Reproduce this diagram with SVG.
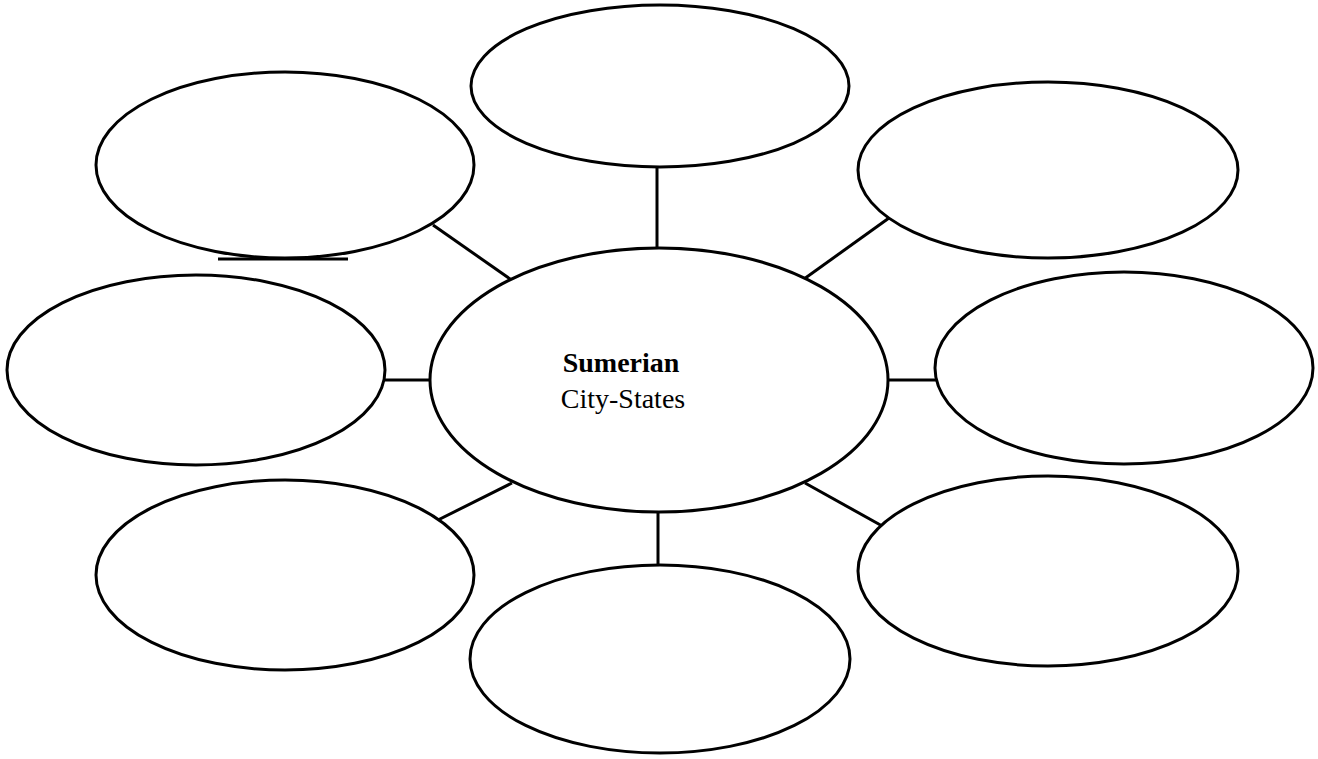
<svg xmlns="http://www.w3.org/2000/svg" width="1318" height="759" viewBox="0 0 1318 759">
<style>
.n{fill:#fff;stroke:#000;stroke-width:3}
.c line{stroke:#000;stroke-width:3}
.t{font-family:"Liberation Serif",serif;font-size:28px;fill:#000;text-anchor:middle}
</style>
<rect width="1318" height="759" fill="#fff"/>
<g class="c" id="connectors">
<line x1="657" y1="168" x2="657" y2="250"/>
<line x1="433" y1="225" x2="513" y2="281"/>
<line x1="889" y1="218" x2="804" y2="279"/>
<line x1="384" y1="380" x2="431" y2="380"/>
<line x1="887" y1="380" x2="936" y2="380"/>
<line x1="512" y1="483" x2="424" y2="527"/>
<line x1="805" y1="483" x2="893" y2="532"/>
<line x1="658" y1="513" x2="658" y2="566"/>
<line x1="218" y1="259" x2="348" y2="259"/>
</g>
<g id="center"><ellipse class="n" cx="659" cy="380" rx="229" ry="132"/>
<text class="t" x="621" y="372" font-weight="bold">Sumerian</text>
<text class="t" x="623" y="408">City-States</text></g>
<g id="top"><ellipse class="n" cx="660" cy="86" rx="189" ry="81"/></g>
<g id="top-left"><ellipse class="n" cx="285" cy="165" rx="189" ry="93"/></g>
<g id="top-right"><ellipse class="n" cx="1048" cy="170" rx="190" ry="88"/></g>
<g id="left"><ellipse class="n" cx="196" cy="370" rx="189" ry="95"/></g>
<g id="right"><ellipse class="n" cx="1124" cy="368" rx="189" ry="96"/></g>
<g id="bottom-left"><ellipse class="n" cx="285" cy="575" rx="189" ry="95"/></g>
<g id="bottom-right"><ellipse class="n" cx="1048" cy="571" rx="190" ry="95"/></g>
<g id="bottom"><ellipse class="n" cx="660" cy="659" rx="190" ry="94"/></g>
</svg>
